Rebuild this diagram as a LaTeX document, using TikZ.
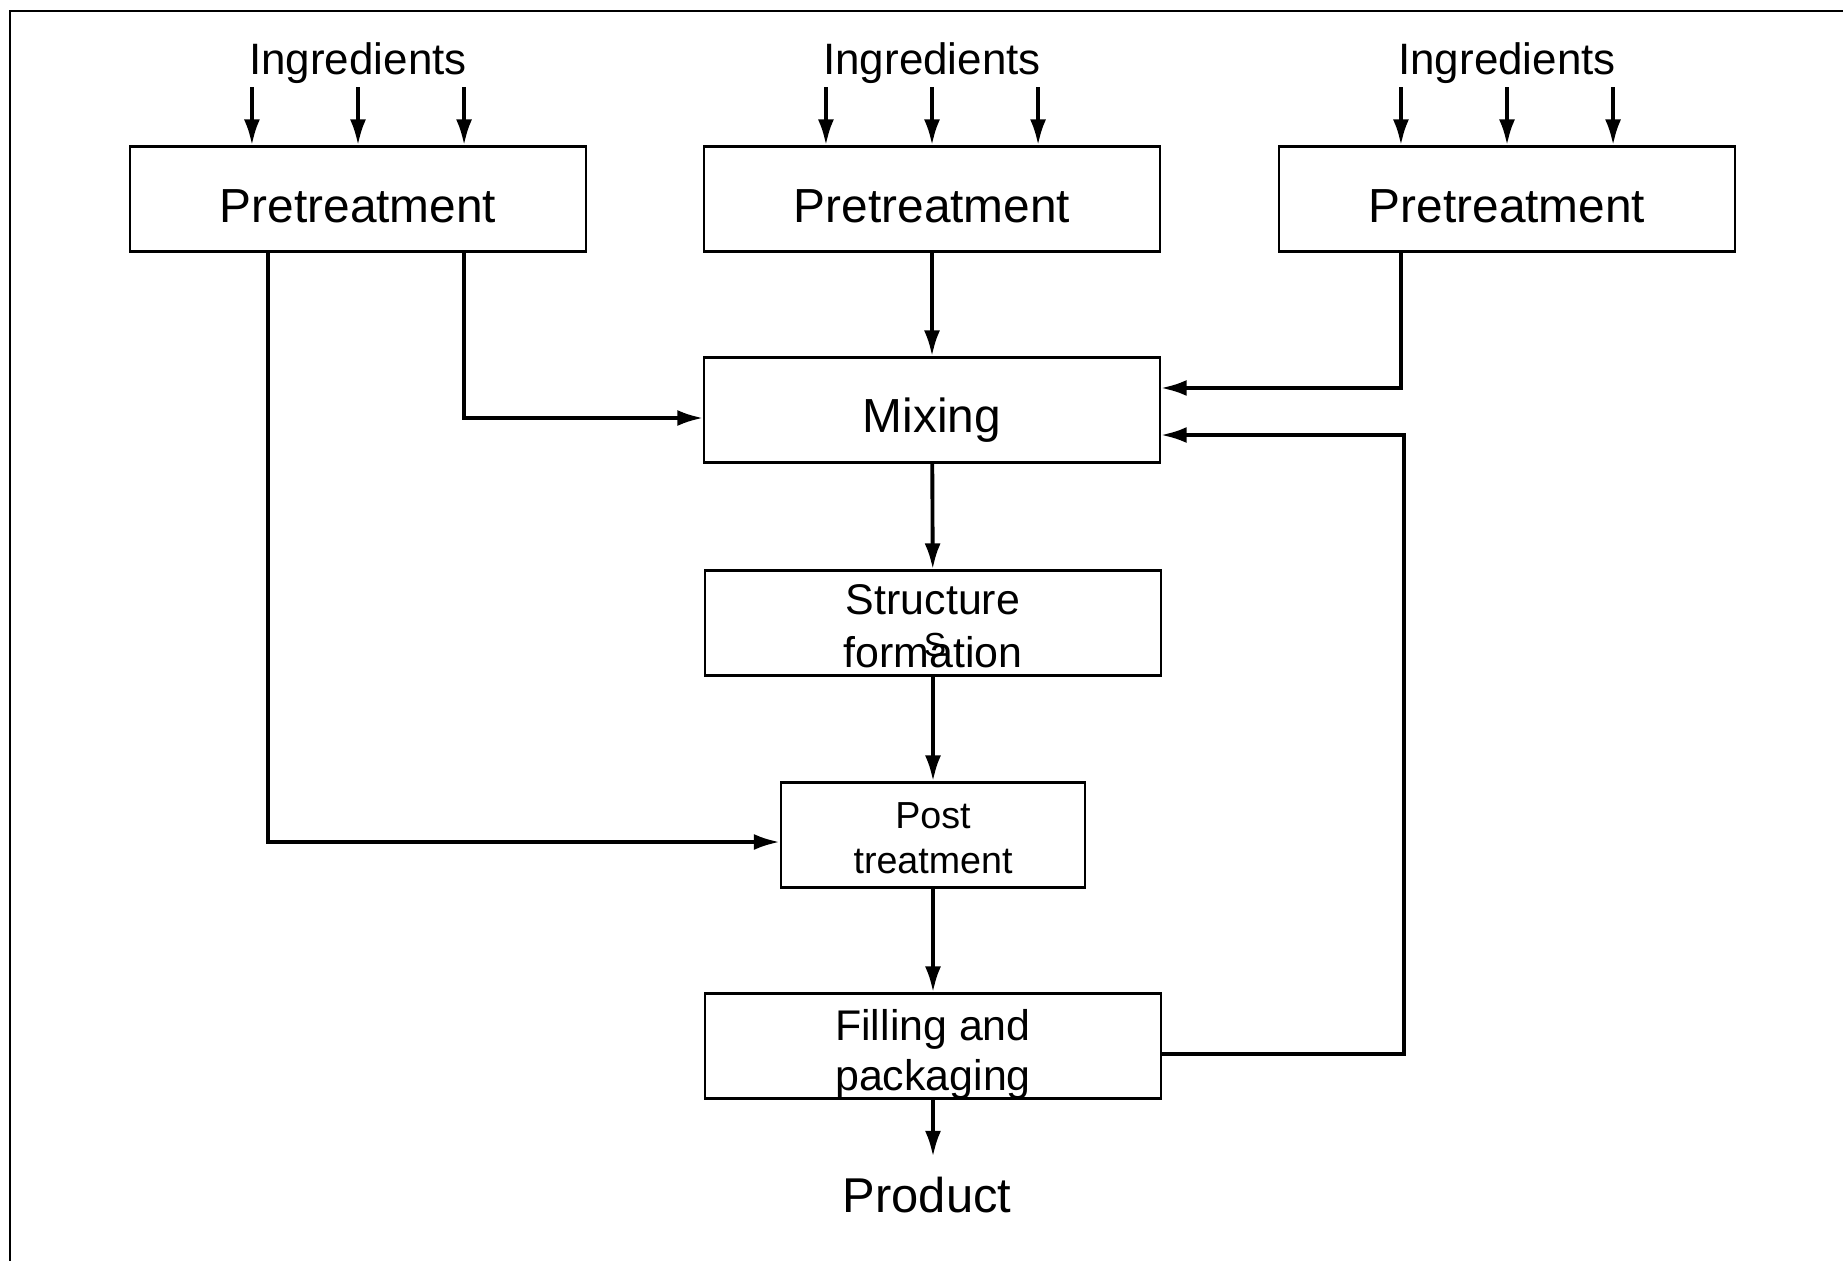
\documentclass[tikz,border=0pt]{standalone}
\usepackage{fontspec}
\setmainfont{Liberation Sans}
\usetikzlibrary{arrows.meta,positioning}

\begin{document}
\begin{tikzpicture}[x=0.01cm,y=-0.01cm,
  box/.style={draw,line width=0.6pt,minimum width=4.55cm,minimum height=1.05cm,align=center,inner sep=0pt,text depth=0pt},
  flow/.style={line width=1.1pt,-{Latex[length=0.26cm,width=0.16cm]}},
  lbl/.style={font=\fontsize{12.5}{15}\selectfont,inner sep=0.03cm}]
\useasboundingbox (0,0) rectangle (1843,1261);
% Frame
\draw[line width=0.7pt] (10,1261) -- (10,11) -- (1843,11);
% Pretreatment boxes with their ingredients
\node[box,text height=0.46cm,font=\fontsize{13.6}{16}\selectfont] (pre1) at (358,199) {Pretreatment};
\node[box,text height=0.46cm,font=\fontsize{13.6}{16}\selectfont] (pre2) at (932,199) {Pretreatment};
\node[box,text height=0.46cm,font=\fontsize{13.6}{16}\selectfont] (pre3) at (1507,199) {Pretreatment};
\foreach \p in {pre1,pre2,pre3} {
  \node[lbl,anchor=base] (ing-\p) at ([yshift=0.71cm]\p.north) {Ingredients};
  \foreach \dx in {-1.06,0,1.06}
    \draw[flow] ([xshift=\dx cm]ing-\p.south) -- ([xshift=\dx cm]\p.north);
}
% Main line
\node[box,text height=0.44cm,font=\fontsize{13.6}{16}\selectfont] (mix) at (932,410) {Mixing};
\node[box,text height=0.88cm,font=\fontsize{12.2}{14.8}\selectfont] (struct) at (933,623) {Structure\\formation};
\node[font=\fontsize{9.5}{11}\selectfont,inner sep=0pt] (stray) at (935,645) {S};
\node[box,text height=0.76cm,minimum width=3.04cm,font=\fontsize{10.7}{12.8}\selectfont] (post) at (933,835) {Post\\treatment};
\node[box,text height=0.88cm,font=\fontsize{12.2}{14.2}\selectfont] (pack) at (933,1046) {Filling and\\packaging};
\node[font=\fontsize{13.9}{16}\selectfont,anchor=base,inner sep=0.19cm] (product) at (927,1212) {Product};
\draw[flow] (pre2) -- (mix);
\draw[flow] (mix) -- (struct);
\draw[flow] (struct) -- (post);
\draw[flow] (post) -- (pack);
\draw[flow] (pack.south) -- (pack.south |- product.north);
% Side feeds
\draw[flow] ([xshift=1.06cm]pre1.south) |- ([yshift=-0.08cm]mix.west);
\draw[flow] ([xshift=-0.9cm]pre1.south) |- ([yshift=-0.07cm]post.west);
\draw[flow] ([xshift=-1.06cm]pre3.south) |- ([yshift=0.22cm]mix.east);
% Return from packaging
\draw[flow] ([yshift=-0.08cm]pack.east) -- ++(2.42cm,0) |- ([yshift=-0.25cm]mix.east);
\end{tikzpicture}
\end{document}
